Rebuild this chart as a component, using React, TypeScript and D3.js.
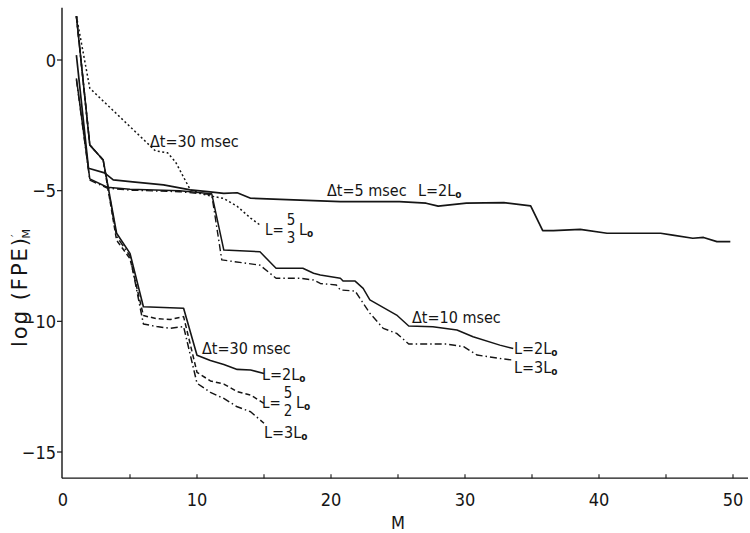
import React from "react";
import * as d3 from "d3";

// M (model order) vs log(FPE)'_M
const seriesA_dt5_L2: [number, number][] = [
  [1, 0.19], [1.9, -4.14], [3.1, -4.32], [3.75, -4.59], [5.2, -4.66], [7.5, -4.78], [9.5, -4.97],
  [10.8, -5.04], [12, -5.1], [13, -5.08], [14, -5.29], [16.2, -5.33], [20.7, -5.42], [25.1, -5.42],
  [27.1, -5.48], [28, -5.59], [30.1, -5.48], [32.9, -5.46], [34.9, -5.58], [35.8, -6.53], [36.6, -6.53],
  [38.6, -6.48], [40.6, -6.63], [44.6, -6.63], [45.5, -6.7], [47, -6.82], [47.8, -6.79], [48.8, -6.95],
  [49.8, -6.95],
];
const seriesB_dt30_L53: [number, number][] = [
  [1, 1.68], [2, -1.08], [6.9, -3.48], [7.8, -3.55], [8.4, -3.9], [9.5, -4.97], [10.7, -5.17],
  [12, -5.3], [13, -5.6], [14, -6.05], [14.8, -6.35],
];
const seriesC_dt10_L2: [number, number][] = [
  [1, -0.7], [2, -4.55], [3.3, -4.87], [5, -4.95], [8.7, -5.0], [11.1, -5.12], [12, -7.27],
  [14.7, -7.34], [15.9, -7.97], [17.9, -7.97], [18.7, -8.16], [19.2, -8.23], [20.7, -8.35],
  [20.9, -8.46], [21.8, -8.46], [22.4, -8.74], [22.9, -9.18], [24.9, -9.76], [25.8, -10.18],
  [27.6, -10.21], [29.4, -10.33], [30.6, -10.59], [32.6, -10.91], [33.6, -11.04],
];
const seriesD_dt10_L3: [number, number][] = [
  [1, -0.75], [2, -4.6], [3.3, -4.9], [5, -4.98], [8.7, -5.04], [11.1, -5.15], [11.85, -7.65],
  [14.7, -7.85], [15.9, -8.35], [17.7, -8.35], [18.7, -8.42], [19.2, -8.55], [20.4, -8.61],
  [20.7, -8.8], [21.8, -8.84], [22.9, -9.69], [23.9, -10.27], [24.9, -10.46], [25.8, -10.87],
  [28.6, -10.87], [29.9, -10.97], [30.9, -11.29], [32.6, -11.42], [33.5, -11.48],
];
const seriesE_dt30_L2: [number, number][] = [
  [1, 1.68], [2, -3.25], [3, -3.83], [4, -6.63], [5, -7.4], [6, -9.44], [7, -9.46], [8, -9.48],
  [9, -9.5], [10, -11.3], [11, -11.5], [12, -11.65], [13, -11.84], [14, -11.86], [15, -12.0],
];
const seriesF_dt30_L52: [number, number][] = [
  [1, 1.68], [2, -3.25], [3, -3.83], [4, -6.9], [5, -7.6], [6, -9.78], [7, -9.9], [8, -9.93],
  [9, -9.82], [10, -11.95], [11, -12.28], [12, -12.4], [13, -12.69], [14, -12.82], [15, -13.14],
];
const seriesG_dt30_L3: [number, number][] = [
  [1, 1.68], [2, -3.25], [3, -3.83], [4, -6.75], [5, -7.5], [6, -10.1], [7, -10.2], [8, -10.27],
  [9, -10.2], [10, -12.37], [11, -12.72], [12, -12.95], [13, -13.27], [14, -13.46], [15, -13.9],
];

const xTicks = [0, 10, 20, 30, 40, 50];
const xMinorTicks = [5, 10, 15, 20, 25, 30, 35, 40, 45, 50];
const yTicks = [0, -5, -10, -15];

const INK = "#151515";
const FONT = "'DejaVu Sans Condensed', 'DejaVu Sans', sans-serif";

export default function App() {
  const x = d3.scaleLinear().domain([0, 50]).range([63, 733]);
  const y = d3.scaleLinear().domain([0, -15]).range([60, 452]);
  const line = d3
    .line<[number, number]>()
    .x((d) => x(d[0]))
    .y((d) => y(d[1]));

  const axisY0 = y(-16); // x-axis baseline
  const axisTop = y(2);

  const series: { data: [number, number][]; dash?: string; w: number }[] = [
    { data: seriesA_dt5_L2, w: 1.7 },
    { data: seriesB_dt30_L53, dash: "2,2.5", w: 1.5 },
    { data: seriesC_dt10_L2, w: 1.5 },
    { data: seriesD_dt10_L3, dash: "7,3,1.5,3", w: 1.4 },
    { data: seriesE_dt30_L2, w: 1.6 },
    { data: seriesF_dt30_L52, dash: "5,3", w: 1.5 },
    { data: seriesG_dt30_L3, dash: "7,3,1.5,3", w: 1.5 },
  ];

  const sub = (
    <tspan fontSize={10} fontWeight="bold" dy={2}>
      o
    </tspan>
  );

  const lab = (xx: number, yy: number, content: React.ReactNode, fs = 16) => (
    <text x={xx} y={yy} fontSize={fs} fontFamily={FONT} fill={INK}>
      {content}
    </text>
  );

  const frac = (xx: number, yy: number, num: string, den: string) => (
    <g fontSize={15} fontFamily={FONT} fill={INK} textAnchor="middle">
      <text x={xx} y={yy - 9}>{num}</text>
      <text x={xx} y={yy + 9}>{den}</text>
    </g>
  );

  return (
    <svg width={750} height={533} style={{ position: "absolute", left: 0, top: 0, background: "#fff" }}>
      <rect x={0} y={0} width={750} height={533} fill="#fff" />
      {/* axes */}
      <line x1={62} x2={62} y1={axisTop} y2={axisY0} stroke={INK} strokeWidth={1.4} />
      <line x1={62} x2={748} y1={axisY0} y2={axisY0} stroke={INK} strokeWidth={1.4} />
      {yTicks.map((t) => (
        <g key={"yt" + t}>
          <line x1={57} x2={62} y1={y(t)} y2={y(t)} stroke={INK} strokeWidth={1.2} />
          <text
            x={56}
            y={y(t) + 6.5}
            textAnchor="end"
            fontSize={18}
            fontFamily={FONT}
            fill={INK}
          >
            {t === 0 ? "0" : "\u2212" + Math.abs(t)}
          </text>
        </g>
      ))}
      {xMinorTicks.map((t) => (
        <line key={"xm" + t} x1={x(t)} x2={x(t)} y1={axisY0} y2={axisY0 - 4} stroke={INK} strokeWidth={1.1} />
      ))}
      {xTicks.map((t) => (
        <text
          key={"xt" + t}
          x={x(t)}
          y={506}
          textAnchor="middle"
          fontSize={18}
          fontFamily={FONT}
          fill={INK}
        >
          {t}
        </text>
      ))}
      <text x={398} y={529} textAnchor="middle" fontSize={18} fontFamily={FONT} fill={INK}>
        M
      </text>
      <text
        transform="translate(27,287) rotate(-90)"
        textAnchor="middle"
        fontSize={21}
        fontFamily="'DejaVu Sans', sans-serif"
        letterSpacing={2}
        fill={INK}
      >
        log (FPE)
        <tspan fontSize={11} dy={-8} dx={-1}>′</tspan>
        <tspan fontSize={11} dy={11} dx={-6}>M</tspan>
      </text>

      {/* curves */}
      {series.map((s, i) => (
        <path
          key={"s" + i}
          d={line(s.data) || ""}
          fill="none"
          stroke={INK}
          strokeWidth={s.w}
          strokeDasharray={s.dash}
          strokeLinejoin="round"
        />
      ))}

      {/* annotations */}
      {lab(150, 147, "\u0394t=30 msec")}
      {lab(327, 196, <>{"\u0394t=5 msec"}</>)}
      {lab(418, 196, <>L=2L{sub}</>)}
      {lab(265, 235, "L=", 15)}
      {frac(291, 234, "5", "3")}
      {lab(299, 235, <>L{sub}</>)}
      {lab(412, 323, "\u0394t=10 msec")}
      {lab(514, 354, <>L=2L{sub}</>)}
      {lab(514, 373, <>L=3L{sub}</>)}
      {lab(202, 354, "\u0394t=30 msec")}
      {lab(262, 380, <>L=2L{sub}</>)}
      {lab(262, 408, "L=", 15)}
      {frac(288, 407, "5", "2")}
      {lab(296, 408, <>L{sub}</>)}
      {lab(264, 438, <>L=3L{sub}</>)}
    </svg>
  );
}
